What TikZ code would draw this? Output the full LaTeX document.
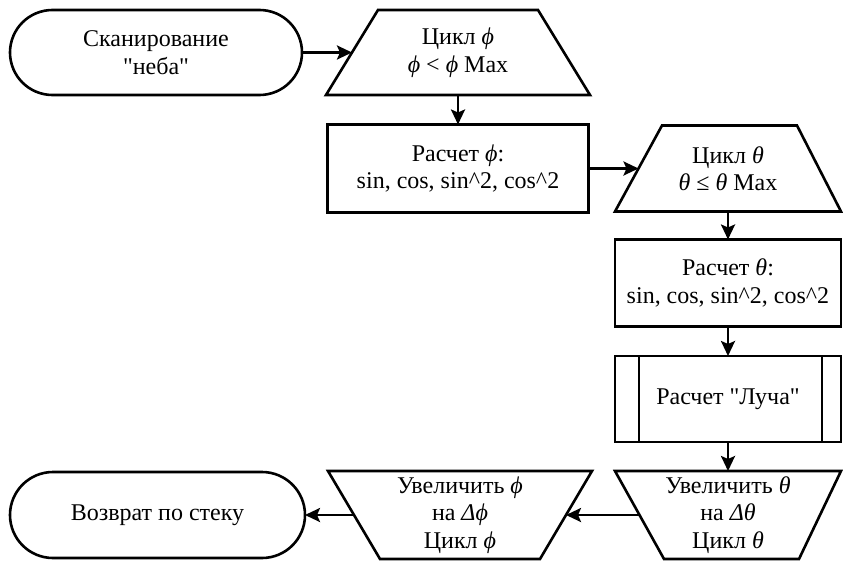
\documentclass[tikz,border=0pt]{standalone}
\usepackage{fontspec}
\setmainfont{Liberation Serif}[Ligatures=TeXOff]
\newfontfamily\tms{Liberation Serif}[Ligatures=TeXOff]
\usetikzlibrary{arrows.meta,shapes.misc}
\newcommand{\gk}[1]{\textit{#1}}
\newcommand{\dq}{\symbol{34}}
\begin{document}
\begin{tikzpicture}[x=1pt,y=-1pt,
  txt/.style={font=\tms\fontsize{24}{27.5}\selectfont, align=center, inner sep=0pt, outer sep=0pt},
  box/.style={txt, draw, line width=2.6pt},
  term/.style={box, rounded rectangle, minimum height=85pt},
  proc/.style={box, rectangle, minimum width=226pt, minimum height=87pt},
  outline/.style={line width=2.6pt, line join=miter},
  arr/.style={line width=2.6pt, -{Stealth[length=15pt,width=14pt,inset=3pt]}}]
\useasboundingbox (0,0) rectangle (843,567);
% terminator
\node[term, minimum width=292pt] (start) at (156,52.5) {Сканирование\\\dq неба\dq};
% loop phi (narrow top)
\node[txt, minimum width=264pt, minimum height=85pt] (loopphi) at (458,52.5) {Цикл \gk{ϕ}\\\gk{ϕ} < \gk{ϕ} Max};
\draw[outline] (loopphi.south west) -- ([xshift=52pt]loopphi.north west) -- ([xshift=-52pt]loopphi.north east) -- (loopphi.south east) -- cycle;
% calc phi
\node[proc, minimum width=261pt, minimum height=88pt] (calcphi) at (458,168.5) {Расчет \gk{ϕ}:\\sin, cos, sin\textasciicircum2, cos\textasciicircum2};
% loop theta (narrow top)
\node[txt, minimum width=226pt, minimum height=86pt] (looptheta) at (728,168.5) {Цикл \gk{θ}\\\gk{θ} ≤ \gk{θ} Max};
\draw[outline] (looptheta.south west) -- ([xshift=47pt]looptheta.north west) -- ([xshift=-44pt]looptheta.north east) -- (looptheta.south east) -- cycle;
% calc theta
\node[proc] (calctheta) at (728,283) {Расчет \gk{θ}:\\sin, cos, sin\textasciicircum2, cos\textasciicircum2};
% predefined process
\node[proc, minimum height=86pt] (ray) at (728,399) {Расчет \dq Луча\dq};
\draw[line width=2.6pt] ([xshift=24pt]ray.north west) -- ([xshift=24pt]ray.south west);
\draw[line width=2.6pt] ([xshift=-19pt]ray.north east) -- ([xshift=-19pt]ray.south east);
% increase theta (wide top)
\node[txt, minimum width=226pt, minimum height=88pt] (inctheta) at (728,515) {Увеличить \gk{θ}\\на \gk{Δθ}\\Цикл \gk{θ}};
\draw[outline] (inctheta.north west) -- (inctheta.north east) -- ([xshift=-42pt]inctheta.south east) -- ([xshift=49pt]inctheta.south west) -- cycle;
% increase phi (wide top)
\node[txt, minimum width=264pt, minimum height=88pt] (incphi) at (460,515) {Увеличить \gk{ϕ}\\на \gk{Δϕ}\\Цикл \gk{ϕ}};
\draw[outline] (incphi.north west) -- (incphi.north east) -- ([xshift=-52pt]incphi.south east) -- ([xshift=52pt]incphi.south west) -- cycle;
% return
\node[term, minimum width=295pt, minimum height=86pt] (ret) at (157.5,515) {Возврат по стеку};
% connectors
\draw[arr] (start.east) -- ([xshift=26pt]loopphi.west);
\draw[arr] (loopphi.south) -- (calcphi.north);
\draw[arr] (calcphi.east) -- ([xshift=23.5pt]looptheta.west);
\draw[arr] (looptheta.south) -- (calctheta.north);
\draw[arr] (calctheta.south) -- (ray.north);
\draw[arr] (ray.south) -- (inctheta.north);
\draw[arr] ([xshift=24.5pt]inctheta.west) -- ([xshift=-26pt]incphi.east);
\draw[arr] ([xshift=26pt]incphi.west) -- (ret.east);
\end{tikzpicture}
\end{document}
